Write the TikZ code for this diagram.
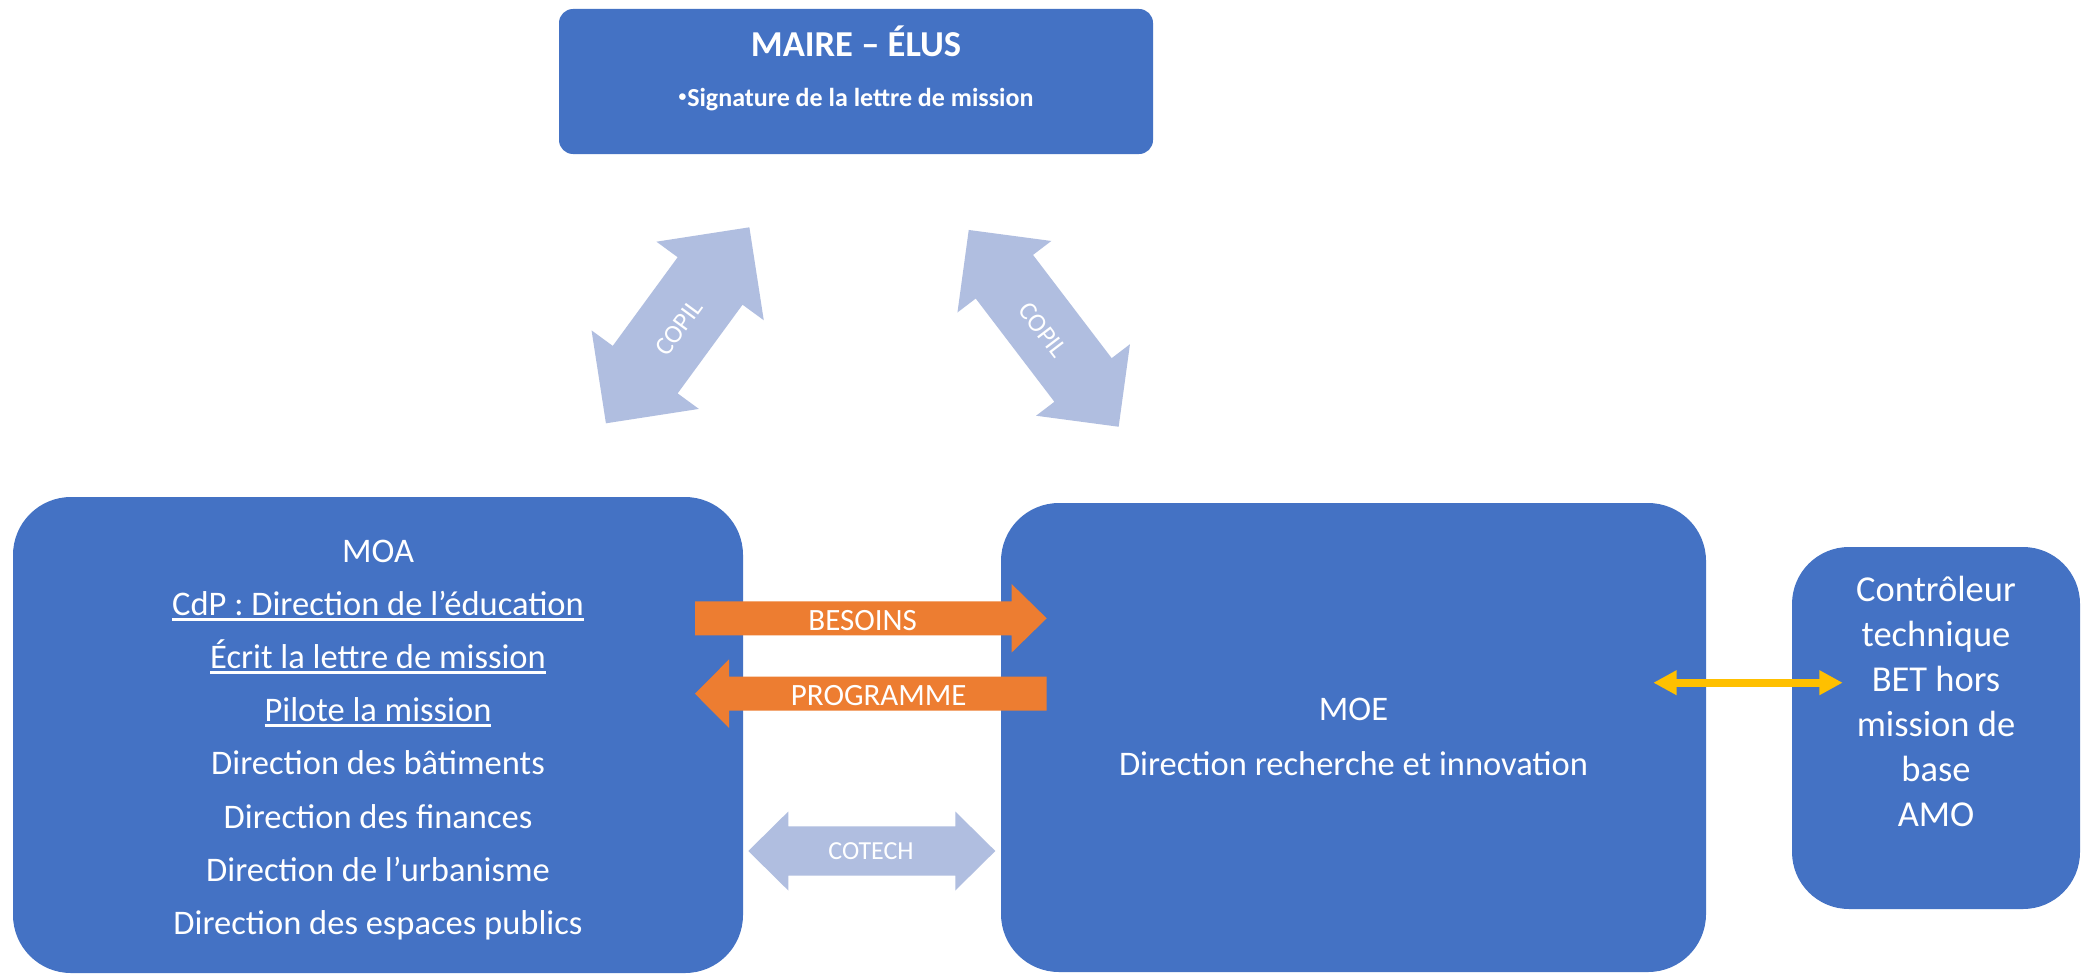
\documentclass[tikz,border=0pt]{standalone}
\usepackage{fontspec}
\setmainfont{Carlito}
\usetikzlibrary{arrows.meta}
\definecolor{boxblue}{RGB}{68,114,196}
\definecolor{lightarrow}{RGB}{176,190,224}
\definecolor{orangearrow}{RGB}{237,125,49}
\definecolor{yellowarrow}{RGB}{255,192,0}
\newcommand\myul[1]{\setbox0\hbox{#1}\rlap{\rule[-5.5pt]{\wd0}{2.2pt}}\box0}
\newcommand\fs[2]{\fontsize{#1}{#2}\selectfont}
\newcommand\smallbullet{\raisebox{4.5pt}{\scalebox{0.6}{•}}\kern1pt}
% #1 colour, #2 centre, #3 angle, #4 half length, #5 shaft half width, #6 head half width, #7 head length
\newcommand\blockdarrow[7]{%
  \fill[#1, shift={#2}, rotate=#3] (-#4,0) -- (-#4+#7,#6) -- (-#4+#7,#5) -- (#4-#7,#5) -- (#4-#7,#6) -- (#4,0)
    -- (#4-#7,-#6) -- (#4-#7,-#5) -- (-#4+#7,-#5) -- (-#4+#7,-#6) -- cycle;}
\begin{document}
\begin{tikzpicture}[x=1pt,y=-1pt,
  box/.style={fill=boxblue, draw=none, inner sep=0pt},
  txt/.style={text=white, anchor=base, inner sep=0pt},
  body/.style={txt, font=\fs{34.5}{40}},
  side/.style={txt, font=\fs{36.5}{42}},
  arrowlbl/.style={text=white, inner sep=0pt, anchor=base},
]
\useasboundingbox (0,0) rectangle (2087,974);
\fill[white] (0,0) rectangle (2087,974);

% boxes
\node[box, minimum width=594pt, minimum height=145pt, rounded corners=14pt] (maire) at (856,81.5) {};
\node[box, minimum width=730pt, minimum height=476pt, rounded corners=58pt] (moa) at (378,735) {};
\node[box, minimum width=705pt, minimum height=469pt, rounded corners=58pt] (moe) at (1353.5,737.5) {};
\node[box, minimum width=288pt, minimum height=362pt, rounded corners=57pt] (ctrl) at (1936,728) {};

% top box text
\node[txt, font=\fs{36.5}{42}\bfseries] (maireT) at (856,56.7) {MAIRE – ÉLUS};
\node[txt, font=\fs{26}{30}\bfseries] (maireS) at (856,106) {\smallbullet Signature de la lettre de mission};

% MOA text
\node[body] (moa1) at (378,562) {MOA};
\node[body] (moa2) at (378,615) {\myul{CdP : Direction de l’éducation}};
\node[body] (moa3) at (378,668) {\myul{Écrit la lettre de mission}};
\node[body] (moa4) at (378,721) {\myul{Pilote la mission}};
\node[body] (moa5) at (378,774) {Direction des bâtiments};
\node[body] (moa6) at (378,828) {Direction des finances};
\node[body] (moa7) at (378,881) {Direction de l’urbanisme};
\node[body] (moa8) at (378,934) {Direction des espaces publics};

% MOE text
\node[body] (moe1) at (1353.5,720) {MOE};
\node[body] (moe2) at (1353.5,775) {Direction recherche et innovation};

% right box text
\node[side] (ctrl1) at (1936,601) {Contrôleur};
\node[side] (ctrl2) at (1936,646) {technique};
\node[side] (ctrl3) at (1936,691) {BET hors};
\node[side] (ctrl4) at (1936,736) {mission de};
\node[side] (ctrl5) at (1936,781) {base};
\node[side] (ctrl6) at (1936,826) {AMO};

% COPIL arrows
\blockdarrow{lightarrow}{(677.65,325.3)}{53.8}{121.45}{40.2}{66.5}{66.5}
\blockdarrow{lightarrow}{(1043.7,328.35)}{-52.7}{123.7}{36}{59}{58.8}
\node[text=white, inner sep=0pt, font=\fs{26}{30}, rotate=53.8] (copilL) at (678.6,327.3) {COPIL};
\node[text=white, inner sep=0pt, font=\fs{26}{30}, rotate=-52.7] (copilR) at (1043,330) {COPIL};

% BESOINS / PROGRAMME
\fill[orangearrow] (695,601.3) -- (1011.7,601.3) -- (1011.7,584.1) -- (1046.7,618.3)
  -- (1011.7,652.5) -- (1011.7,635.3) -- (695,635.3) -- cycle;
\fill[orangearrow] (1046.7,676.7) -- (729,676.7) -- (729,659.4) -- (695,693.7)
  -- (729,728) -- (729,710.7) -- (1046.7,710.7) -- cycle;
\node[arrowlbl, font=\fs{31}{36}] (besoins) at (862.7,630) {BESOINS};
\node[arrowlbl, font=\fs{31}{36}] (programme) at (878.7,705) {PROGRAMME};

% COTECH
\blockdarrow{lightarrow}{(871.8,851)}{0}{123.5}{24.7}{39.5}{40}
\node[arrowlbl, font=\fs{26}{30}] (cotech) at (871,859.3) {COTECH};

% yellow link
\coordinate (ya) at (1653.3,682.7);
\coordinate (yb) at (1842.7,682.7);
\draw[yellowarrow, line width=8.3pt, {Triangle[length=23.3pt,width=23.3pt]}-{Triangle[length=23.3pt,width=23.3pt]}] (ya) -- (yb);
\end{tikzpicture}
\end{document}
